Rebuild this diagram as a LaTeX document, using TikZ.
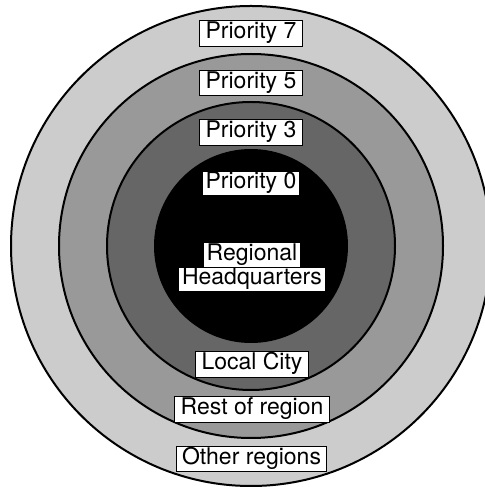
\documentclass[tikz,border=0pt]{standalone}
\usepackage{fontspec}
\setmainfont{TeX Gyre Heros}
\usetikzlibrary{positioning}

\begin{document}
\begin{tikzpicture}[x=0.5pt, y=0.5pt,
        ring/.style={draw=black, line width=1pt},
        tag/.style={draw=black, fill=white, line width=0.5pt,
            inner xsep=3pt, inner ysep=1.5pt,
            text height=0.75em, text depth=0.22em,
            font=\fontsize{11.5}{13}\selectfont},
        plaintag/.style={tag, draw=none, inner xsep=1.5pt, inner ysep=1pt}]
        \useasboundingbox (0,0) rectangle (485,487);
        \clip (0,0) rectangle (485,487);
        \coordinate (C) at (251,241);
        \foreach \r/\shade in {240/black!20, 192/black!40, 144/black!60, 96/black}
            \filldraw[ring, fill=\shade] (C) circle (\r);
        \node[tag] (p7) at (251,453.5) {Priority 7};
        \node[tag] (p5) at (251,404) {Priority 5};
        \node[tag] (p3) at (251,354.5) {Priority 3};
        \node[plaintag] (p0) at (251,303.5) {Priority 0};
        \node[plaintag] (hq1) at (252,232) {Regional};
        \node[plaintag, below=0pt of hq1] (hq2) {Headquarters};
        \node[tag] (city) at (252,122.5) {Local City};
        \node[tag] (rest) at (252,77.5) {Rest of region};
        \node[tag] (other) at (251.5,28) {Other regions};
    \end{tikzpicture}
\end{document}
